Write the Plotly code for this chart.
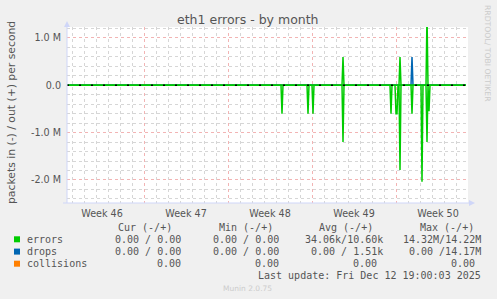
import plotly.graph_objects as go

# ---------------- data ----------------
title = "eth1 errors - by month"
y_label = "packets in (-) / out (+) per second"
watermark = "RRDTOOL/ TOBI OETIKER"
footer = "Munin 2.0.75"
last_update = "Last update: Fri Dec 12 19:00:03 2025"

# 2-hour averaged samples (zeros bracket each spike)
times = [
    "2025-11-10 14:00",
    "2025-11-28 10:00", "2025-11-28 12:00", "2025-11-28 14:00",
    "2025-11-30 14:00", "2025-11-30 16:00", "2025-11-30 18:00",
    "2025-12-01 00:00", "2025-12-01 02:00", "2025-12-01 04:00",
    "2025-12-03 12:00", "2025-12-03 14:00", "2025-12-03 16:00",
    "2025-12-07 12:00", "2025-12-07 14:00", "2025-12-07 16:00",
    "2025-12-07 22:00", "2025-12-08 00:00", "2025-12-08 02:00", "2025-12-08 04:00",
    "2025-12-08 06:00", "2025-12-08 08:00", "2025-12-08 10:00",
    "2025-12-09 06:00", "2025-12-09 08:00", "2025-12-09 10:00",
    "2025-12-10 02:00", "2025-12-10 04:00", "2025-12-10 06:00",
    "2025-12-10 12:00", "2025-12-10 14:00", "2025-12-10 16:00", "2025-12-10 18:00", "2025-12-10 20:00",
    "2025-12-13 20:00",
]
# received (plotted below zero)
errors_in = [
    0,
    0, 0.6e6, 0,
    0, 0.6e6, 0,
    0, 0.6e6, 0,
    0, 1.2e6, 0,
    0, 0.6e6, 0,
    0, 0.6e6, 0.6e6, 0,
    0, 1.79e6, 0,
    0, 0.6e6, 0,
    0, 2.04e6, 0,
    0, 1.2e6, 0, 0.55e6, 0,
    0,
]
# transmitted (plotted above zero)
errors_out = [
    0,
    0, 0, 0,
    0, 0, 0,
    0, 0, 0,
    0, 0.6e6, 0,
    0, 0, 0,
    0, 0, 0, 0,
    0, 0.6e6, 0,
    0, 0, 0,
    0, 0, 0,
    0, 1.5e6, 0, 0, 0,
    0,
]
drops_in = [0] * len(times)
drops_out = [
    0,
    0, 0, 0,
    0, 0, 0,
    0, 0, 0,
    0, 0, 0,
    0, 0, 0,
    0, 0, 0, 0,
    0, 0, 0,
    0, 0.6e6, 0,
    0, 0, 0,
    0, 0, 0, 0, 0,
    0,
]
collisions = [0] * len(times)

series_names = ["errors", "drops", "collisions"]
series_colors = ["#00cc00", "#0066b3", "#ff8000"]
stat_headers = ["Cur (-/+)", "Min (-/+)", "Avg (-/+)", "Max (-/+)"]
stat_values = [
    ["0.00 / 0.00", "0.00 / 0.00", "34.06k/10.60k", "14.32M/14.22M"],
    ["0.00 / 0.00", "0.00 / 0.00", "0.00 / 1.51k", "0.00 /14.17M"],
    ["0.00", "0.00", "0.00", "0.00"],
]
y_tickvals = [-2e6, -1e6, 0, 1e6]
y_ticktext = ["-2.0 M", "-1.0 M", "0.0", "1.0 M"]

x_range = ["2025-11-10 14:00", "2025-12-14 00:00"]
y_range = [-2.487e6, 1.232e6]

# ---------------- layout helpers ----------------
W, H = 497, 299
L, T, PW, PH = 67, 27, 401, 176
R, B = W - L - PW, H - T - PH


def fx(px):
    return (px - L) / PW


def fy(py):
    return (T + PH - py) / PH


TXT = "#555555"
AXIS = "#CFD6F8"
MONO = "DejaVu Sans Mono"
SANS = "DejaVu Sans"

fig = go.Figure()

lw = 1.5
fig.add_trace(go.Scatter(x=times, y=collisions, mode="lines",
                         line=dict(color=series_colors[2], width=lw), hoverinfo="skip"))
fig.add_trace(go.Scatter(x=times, y=[-v for v in drops_in], mode="lines",
                         line=dict(color=series_colors[1], width=lw), hoverinfo="skip"))
fig.add_trace(go.Scatter(x=times, y=drops_out, mode="lines",
                         line=dict(color=series_colors[1], width=lw), hoverinfo="skip"))
fig.add_trace(go.Scatter(x=times, y=[-v for v in errors_in], mode="lines",
                         line=dict(color=series_colors[0], width=lw), hoverinfo="skip"))
fig.add_trace(go.Scatter(x=times, y=errors_out, mode="lines",
                         line=dict(color=series_colors[0], width=lw), hoverinfo="skip"))
# black zero rule peeking through
fig.add_trace(go.Scatter(x=[times[0], times[-1]], y=[0, 0], mode="lines",
                         line=dict(color="#000000", width=lw, dash="2px,10px"), hoverinfo="skip"))

minor_grid = "#d6d6d6"
major_grid = "#f2b4b4"

fig.update_xaxes(
    type="date", range=x_range,
    tick0="2025-11-10", dtick=7 * 86400000,
    ticklabelmode="period", tickformat="Week %V",
    showgrid=True, gridcolor=major_grid, griddash="dot", gridwidth=1,
    minor=dict(dtick=86400000, tick0="2025-11-10", showgrid=True,
               gridcolor=minor_grid, griddash="dot", gridwidth=1),
    showline=False, zeroline=False, ticks="",
    tickfont=dict(family=SANS, size=9.6, color=TXT),
    ticklabelstandoff=3,
)
fig.update_yaxes(
    range=y_range, tickvals=y_tickvals, ticktext=y_ticktext,
    showgrid=True, gridcolor=major_grid, griddash="dot", gridwidth=1,
    minor=dict(dtick=2e5, tick0=0, showgrid=True,
               gridcolor=minor_grid, griddash="dot", gridwidth=1),
    showline=False, zeroline=False, ticks="",
    tickfont=dict(family=SANS, size=9.6, color=TXT),
    ticklabelstandoff=5,
)

shapes = []
# axis lines with arrows
shapes.append(dict(type="line", xref="paper", yref="paper",
                   x0=fx(67), x1=fx(67), y0=fy(203), y1=fy(24),
                   line=dict(color=AXIS, width=1)))
shapes.append(dict(type="path", xref="paper", yref="paper",
                   path=f"M {fx(64)} {fy(27)} L {fx(70)} {fy(27)} L {fx(67)} {fy(21)} Z",
                   fillcolor=AXIS, line=dict(width=0)))
shapes.append(dict(type="line", xref="paper", yref="paper",
                   x0=fx(63), x1=fx(471), y0=fy(203), y1=fy(203),
                   line=dict(color=AXIS, width=1)))
shapes.append(dict(type="path", xref="paper", yref="paper",
                   path=f"M {fx(469)} {fy(200)} L {fx(469)} {fy(206)} L {fx(475)} {fy(203)} Z",
                   fillcolor=AXIS, line=dict(width=0)))

annotations = []
annotations.append(dict(text=title, x=fx(248), y=fy(19.5), xref="paper", yref="paper",
                        xanchor="center", yanchor="middle", showarrow=False,
                        font=dict(family=SANS, size=12.5, color=TXT)))
annotations.append(dict(text=y_label, x=fx(11), y=fy(113), xref="paper", yref="paper",
                        xanchor="center", yanchor="middle", showarrow=False, textangle=-90,
                        font=dict(family=SANS, size=10.8, color=TXT)))
annotations.append(dict(text=watermark, x=fx(487.5), y=fy(53.5), xref="paper", yref="paper",
                        xanchor="center", yanchor="middle", showarrow=False, textangle=90,
                        font=dict(family=SANS, size=7.7, color="#cccccc")))
annotations.append(dict(text=footer, x=fx(247.7), y=fy(288.3), xref="paper", yref="paper",
                        xanchor="center", yanchor="middle", showarrow=False,
                        font=dict(family=SANS, size=7.5, color="#cccccc")))

header_right = [173.7, 274.7, 375, 475.7]
pair_right = [183.3, 281, 385, 483]
single_right = [183.3, 281, 379, 476.7]
header_y = 227.7
row_y = [239.3, 251.6, 263.7]

for hx, h in zip(header_right, stat_headers):
    annotations.append(dict(text=h, x=fx(hx), y=fy(header_y), xref="paper", yref="paper",
                            xanchor="right", yanchor="middle", showarrow=False,
                            font=dict(family=MONO, size=10, color=TXT)))
for i, (name, color) in enumerate(zip(series_names, series_colors)):
    ry = row_y[i]
    shapes.append(dict(type="rect", xref="paper", yref="paper",
                       x0=fx(14), x1=fx(20), y0=fy(ry + 3), y1=fy(ry - 3),
                       fillcolor=color, line=dict(width=0)))
    annotations.append(dict(text=name, x=fx(25), y=fy(ry), xref="paper", yref="paper",
                            xanchor="left", yanchor="middle", showarrow=False,
                            font=dict(family=MONO, size=10, color=TXT)))
    rights = single_right if i == 2 else pair_right
    for rx, v in zip(rights, stat_values[i]):
        annotations.append(dict(text=v, x=fx(rx), y=fy(ry), xref="paper", yref="paper",
                                xanchor="right", yanchor="middle", showarrow=False,
                                font=dict(family=MONO, size=10, color=TXT)))
annotations.append(dict(text=last_update, x=fx(483), y=fy(275.7), xref="paper", yref="paper",
                        xanchor="right", yanchor="middle", showarrow=False,
                        font=dict(family=MONO, size=10, color=TXT)))

fig.update_layout(
    width=W, height=H,
    margin=dict(l=L, r=R, t=T, b=B, pad=0),
    paper_bgcolor="#f0f0f0", plot_bgcolor="#ffffff",
    showlegend=False,
    shapes=shapes, annotations=annotations,
)

fig.write_html("out.html", include_plotlyjs=True)
